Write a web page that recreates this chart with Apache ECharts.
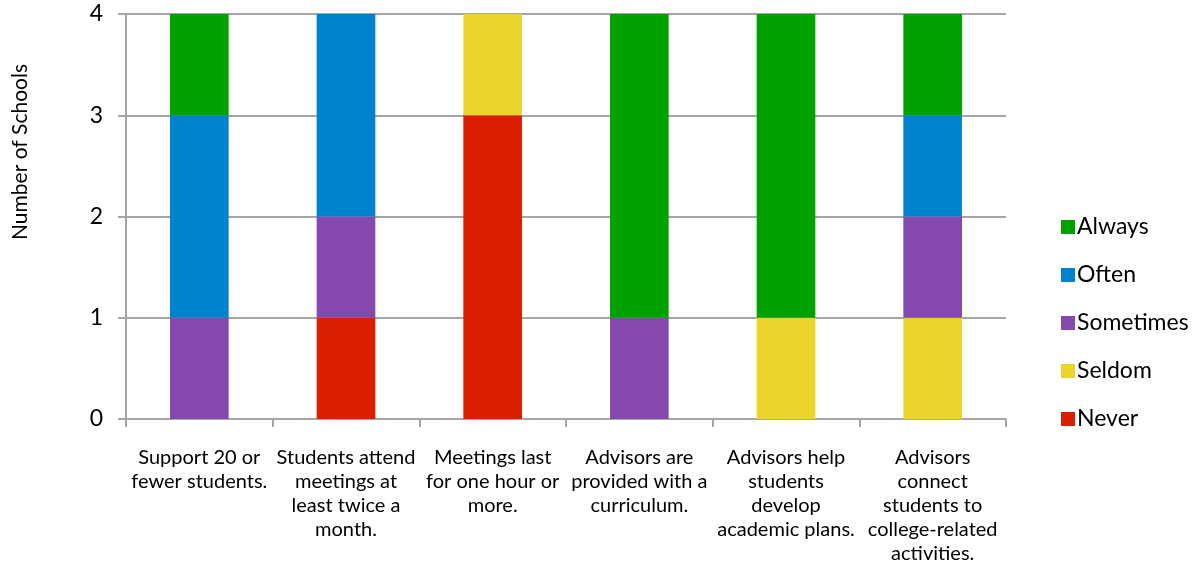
<!DOCTYPE html>
<html>
<head>
<meta charset="utf-8">
<script src="https://cdn.jsdelivr.net/npm/echarts@6/dist/echarts.min.js"></script>
<style>
  html, body { margin: 0; padding: 0; background: #fff; }
  #chart { width: 1203px; height: 573px; }
</style>
</head>
<body>
<div id="chart"></div>
<script>
// Advising practices reported by schools
const categories = [
  'Support 20 or\nfewer students.',
  'Students attend\nmeetings at\nleast twice a\nmonth.',
  'Meetings last\nfor one hour or\nmore.',
  'Advisors are\nprovided with a\ncurriculum.',
  'Advisors help\nstudents\ndevelop\nacademic plans.',
  'Advisors\nconnect\nstudents to\ncollege-related\nactivities.'
];

// Number of schools per response, bottom of stack first
const never     = [0, 1, 3, 0, 0, 0];
const seldom    = [0, 0, 1, 0, 1, 1];
const sometimes = [1, 1, 0, 1, 0, 1];
const often     = [2, 2, 0, 0, 0, 1];
const always    = [1, 0, 0, 3, 3, 1];

const yTicks = [0, 1, 2, 3, 4];

const seriesDefs = [
  { name: 'Never',     data: never,     color: '#DA2000' },
  { name: 'Seldom',    data: seldom,    color: '#EBD52C' },
  { name: 'Sometimes', data: sometimes, color: '#8549AD' },
  { name: 'Often',     data: often,     color: '#0083CC' },
  { name: 'Always',    data: always,    color: '#00A200' }
];

const FONT = 'Lato, "Open Sans", sans-serif';
const chart = echarts.init(document.getElementById('chart'));

chart.setOption({
  animation: false,
  grid: { left: 126, right: 197, top: 14, bottom: 154, containLabel: false },
  legend: {
    orient: 'vertical',
    left: 1056,
    top: 210,
    itemWidth: 14,
    itemHeight: 14,
    itemGap: 24,
    icon: 'rect',
    data: ['Always', 'Often', 'Sometimes', 'Seldom', 'Never'],
    textStyle: { fontFamily: FONT, fontSize: 23, color: '#000', lineHeight: 24, padding: [0, 0, 0, -3] }
  },
  xAxis: {
    type: 'category',
    data: categories,
    axisLine: { show: true, lineStyle: { color: '#A6A6A6', width: 2 } },
    axisTick: { show: true, length: 8, alignWithLabel: false, lineStyle: { color: '#A6A6A6', width: 2 } },
    axisLabel: {
      interval: 0,
      margin: 27,
      fontFamily: FONT,
      fontSize: 20,
      lineHeight: 24,
      color: '#000',
      align: 'center'
    }
  },
  yAxis: {
    type: 'value',
    min: yTicks[0],
    max: yTicks[yTicks.length - 1],
    interval: 1,
    axisLine: { show: true, lineStyle: { color: '#A6A6A6', width: 2 } },
    axisTick: { show: true, length: 8, lineStyle: { color: '#A6A6A6', width: 2 } },
    splitLine: { show: true, lineStyle: { color: '#A6A6A6', width: 2 } },
    axisLabel: { margin: 23, fontFamily: FONT, fontSize: 23, color: '#000' }
  },
  graphic: [{
    type: 'text',
    left: 10,
    top: 64,
    rotation: Math.PI / 2,
    style: {
      text: 'Number of Schools',
      fontFamily: FONT,
      fontSize: 21,
      fill: '#000'
    }
  }],
  series: seriesDefs.map(s => ({
    name: s.name,
    type: 'bar',
    stack: 'total',
    barWidth: '40%',
    data: s.data.map(v => (v === 0 ? null : v)),
    itemStyle: { color: s.color }
  }))
});
</script>
</body>
</html>
